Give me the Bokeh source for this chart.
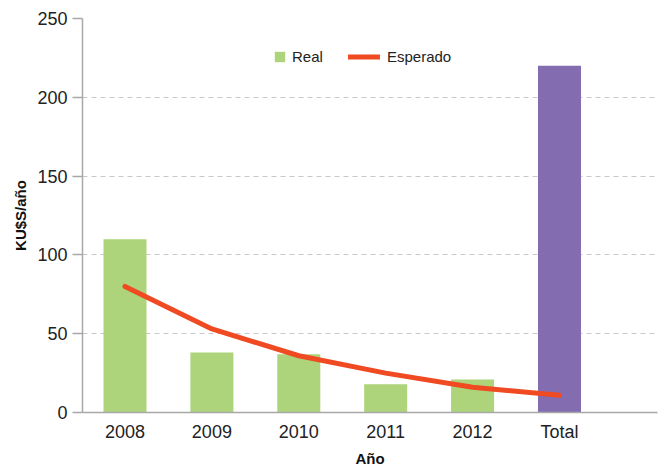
from bokeh.plotting import figure
from bokeh.models import ColumnDataSource, Range1d, Legend, LegendItem, FixedTicker
from bokeh.embed import file_html
from bokeh.resources import INLINE

# ---- data ----
categories = ["2008", "2009", "2010", "2011", "2012", "Total"]
years = ["2008", "2009", "2010", "2011", "2012"]
real = [110, 38, 37, 18, 21]
total_label = ["Total"]
total_value = [220]
esperado = [80, 53, 36, 25, 16, 11]
y_ticks = [0, 50, 100, 150, 200, 250]

pos = {c: i for i, c in enumerate(categories)}

src_real = ColumnDataSource(dict(x=[pos[c] for c in years], top=real))
src_total = ColumnDataSource(dict(x=[pos[c] for c in total_label], top=total_value))
src_esp = ColumnDataSource(dict(x=[pos[c] for c in categories], y=esperado))

p = figure(width=664, height=470, output_backend="svg", toolbar_location=None,
           x_range=Range1d(-0.489, 6.128), y_range=Range1d(0, 250),
           min_border_left=82, min_border_right=7, min_border_top=18, min_border_bottom=58)
p.outline_line_color = None
p.background_fill_color = "white"
p.border_fill_color = "white"

p.xgrid.grid_line_color = None
p.ygrid.ticker = FixedTicker(ticks=y_ticks)
p.ygrid.grid_line_color = "#c8c8c8"
p.ygrid.grid_line_dash = "5 4"
p.ygrid.grid_line_width = 1

r_real = p.vbar(x="x", top="top", width=0.495, bottom=0, source=src_real,
                fill_color="#add47a", line_color=None)
r_total = p.vbar(x="x", top="top", width=0.495, bottom=0, source=src_total,
                 fill_color="#836caf", line_color=None)
r_esp = p.line(x="x", y="y", source=src_esp, line_color="#f04a23", line_width=5,
               line_cap="round", line_join="round")

font = "Liberation Sans"
# y axis
ya = p.yaxis[0]
ya.ticker = FixedTicker(ticks=y_ticks)
ya.axis_line_color = "#a8a8a8"
ya.axis_line_width = 1.5
ya.major_tick_line_color = "#a8a8a8"
ya.major_tick_line_width = 1.5
ya.major_tick_out = 10
ya.major_tick_in = 0
ya.minor_tick_line_color = None
ya.major_label_text_font = font
ya.major_label_text_font_size = "18px"
ya.major_label_text_color = "#222222"
ya.major_label_standoff = 5
ya.axis_label = "KU$S/año"
ya.axis_label_text_font = font
ya.axis_label_text_font_style = "bold"
ya.axis_label_text_font_size = "15px"
ya.axis_label_text_color = "#111111"
ya.axis_label_standoff = 5

# x axis
xa = p.xaxis[0]
xa.ticker = FixedTicker(ticks=list(range(len(categories))))
xa.major_label_overrides = {i: c for i, c in enumerate(categories)}
xa.axis_line_color = "#a8a8a8"
xa.axis_line_width = 1.5
xa.major_tick_line_color = None
xa.major_tick_out = 0
xa.major_tick_in = 0
xa.minor_tick_line_color = None
xa.major_label_text_font = font
xa.major_label_text_font_size = "18px"
xa.major_label_text_color = "#222222"
xa.major_label_standoff = 9
xa.axis_label = "Año"
xa.axis_label_text_font = font
xa.axis_label_text_font_style = "bold"
xa.axis_label_text_font_size = "15px"
xa.axis_label_text_color = "#111111"
xa.axis_label_standoff = 5

leg1 = Legend(items=[LegendItem(label="Real", renderers=[r_real])],
              location=(191, 347), glyph_width=13, glyph_height=13,
              label_standoff=6, padding=0, margin=0, border_line_color=None,
              background_fill_alpha=0, label_text_font=font,
              label_text_font_size="15px", label_text_color="#222222")
leg2 = Legend(items=[LegendItem(label="Esperado", renderers=[r_esp])],
              location=(266, 347), glyph_width=32, glyph_height=13,
              label_standoff=7, padding=0, margin=0, border_line_color=None,
              background_fill_alpha=0, label_text_font=font,
              label_text_font_size="15px", label_text_color="#222222")
p.add_layout(leg1, "center")
p.add_layout(leg2, "center")

open("out.html", "w").write(file_html(p, INLINE))
